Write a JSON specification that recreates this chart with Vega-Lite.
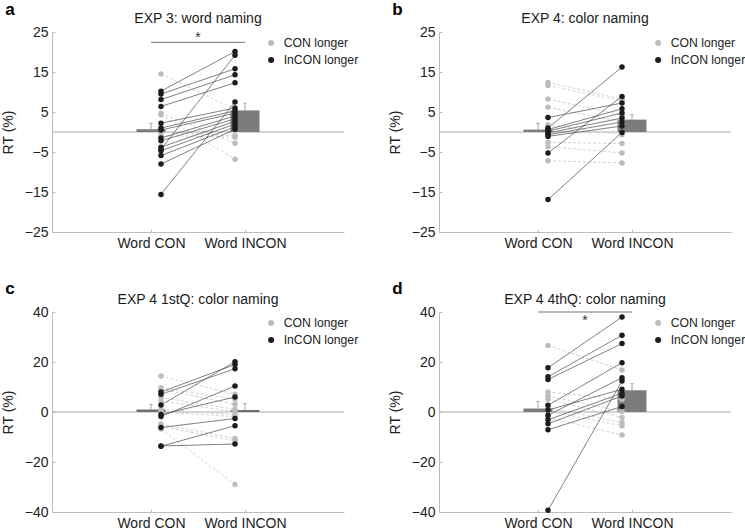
{
  "$schema": "https://vega.github.io/schema/vega-lite/v6.json",
  "padding": {"left": 1, "top": 1, "right": 0, "bottom": 2},
  "background": "white",
  "config": {
    "font": "Liberation Sans",
    "view": {"stroke": null},
    "axis": {"domainColor": "#bcbcbc", "tickColor": "#bcbcbc", "labelColor": "#222222", "labelFontSize": 14, "titleFontSize": 14, "titleFontWeight": "normal", "titleColor": "#222222", "grid": false, "tickSize": -3, "labelPadding": 7, "titlePadding": 9},
    "text": {"font": "Liberation Sans"}
  },
  "datasets": {
    "a_subj": [
      {"s": 1, "con": 14.5, "incon": 5.7, "group": "CON longer"},
      {"s": 2, "con": 4.7, "incon": -2.8, "group": "CON longer"},
      {"s": 3, "con": 4.3, "incon": -6.8, "group": "CON longer"},
      {"s": 4, "con": -0.1, "incon": -0.9, "group": "CON longer"},
      {"s": 5, "con": -0.9, "incon": -1.3, "group": "CON longer"},
      {"s": 6, "con": 10.2, "incon": 20.1, "group": "InCON longer"},
      {"s": 7, "con": 9.5, "incon": 15.8, "group": "InCON longer"},
      {"s": 8, "con": 8.1, "incon": 14.3, "group": "InCON longer"},
      {"s": 9, "con": 6.4, "incon": 12.3, "group": "InCON longer"},
      {"s": 10, "con": 2.2, "incon": 6.0, "group": "InCON longer"},
      {"s": 11, "con": 1.0, "incon": 5.3, "group": "InCON longer"},
      {"s": 12, "con": 0.5, "incon": 4.7, "group": "InCON longer"},
      {"s": 13, "con": -1.5, "incon": 4.0, "group": "InCON longer"},
      {"s": 14, "con": -2.2, "incon": 3.3, "group": "InCON longer"},
      {"s": 15, "con": -3.8, "incon": 2.7, "group": "InCON longer"},
      {"s": 16, "con": -4.3, "incon": 19.2, "group": "InCON longer"},
      {"s": 17, "con": -4.7, "incon": 2.0, "group": "InCON longer"},
      {"s": 18, "con": -5.9, "incon": 1.3, "group": "InCON longer"},
      {"s": 19, "con": -8.0, "incon": 0.7, "group": "InCON longer"},
      {"s": 20, "con": -15.6, "incon": 7.5, "group": "InCON longer"}
    ],
    "b_subj": [
      {"s": 1, "con": 12.4, "incon": 8.25, "group": "CON longer"},
      {"s": 2, "con": 11.6, "incon": 7.8, "group": "CON longer"},
      {"s": 3, "con": 8.25, "incon": 4.2, "group": "CON longer"},
      {"s": 4, "con": 6.2, "incon": 2.5, "group": "CON longer"},
      {"s": 5, "con": 1.8, "incon": -0.7, "group": "CON longer"},
      {"s": 6, "con": -2.6, "incon": -2.9, "group": "CON longer"},
      {"s": 7, "con": -3.6, "incon": -5.25, "group": "CON longer"},
      {"s": 8, "con": -7.2, "incon": -7.75, "group": "CON longer"},
      {"s": 9, "con": 1.0, "incon": 16.25, "group": "InCON longer"},
      {"s": 10, "con": -5.25, "incon": 8.9, "group": "InCON longer"},
      {"s": 11, "con": 3.6, "incon": 7.25, "group": "InCON longer"},
      {"s": 12, "con": 0.6, "incon": 5.8, "group": "InCON longer"},
      {"s": 13, "con": 0.2, "incon": 4.75, "group": "InCON longer"},
      {"s": 14, "con": -0.25, "incon": 3.5, "group": "InCON longer"},
      {"s": 15, "con": -0.7, "incon": 2.5, "group": "InCON longer"},
      {"s": 16, "con": -1.1, "incon": 1.5, "group": "InCON longer"},
      {"s": 17, "con": -16.9, "incon": -0.1, "group": "InCON longer"}
    ],
    "c_subj": [
      {"s": 1, "con": 14.4, "incon": 7.1, "group": "CON longer"},
      {"s": 2, "con": 9.7, "incon": 5.1, "group": "CON longer"},
      {"s": 3, "con": 9.1, "incon": 3.1, "group": "CON longer"},
      {"s": 4, "con": 5.8, "incon": 1.1, "group": "CON longer"},
      {"s": 5, "con": 4.4, "incon": 0.1, "group": "CON longer"},
      {"s": 6, "con": 1.1, "incon": -1.1, "group": "CON longer"},
      {"s": 7, "con": 0.1, "incon": -1.9, "group": "CON longer"},
      {"s": 8, "con": -4.8, "incon": -10.6, "group": "CON longer"},
      {"s": 9, "con": -5.8, "incon": -11.5, "group": "CON longer"},
      {"s": 10, "con": -6.8, "incon": -29.0, "group": "CON longer"},
      {"s": 11, "con": 8.0, "incon": 19.0, "group": "InCON longer"},
      {"s": 12, "con": 7.1, "incon": 17.3, "group": "InCON longer"},
      {"s": 13, "con": 2.8, "incon": 20.1, "group": "InCON longer"},
      {"s": 14, "con": -1.8, "incon": 10.4, "group": "InCON longer"},
      {"s": 15, "con": -1.0, "incon": 6.0, "group": "InCON longer"},
      {"s": 16, "con": -6.2, "incon": -2.6, "group": "InCON longer"},
      {"s": 17, "con": -13.7, "incon": -5.5, "group": "InCON longer"},
      {"s": 18, "con": -13.6, "incon": -12.8, "group": "InCON longer"}
    ],
    "d_subj": [
      {"s": 1, "con": 26.6, "incon": 16.8, "group": "CON longer"},
      {"s": 2, "con": 8.0, "incon": 5.1, "group": "CON longer"},
      {"s": 3, "con": 6.4, "incon": 0.2, "group": "CON longer"},
      {"s": 4, "con": 5.1, "incon": -2.2, "group": "CON longer"},
      {"s": 5, "con": 1.8, "incon": -4.2, "group": "CON longer"},
      {"s": 6, "con": 0.5, "incon": -5.5, "group": "CON longer"},
      {"s": 7, "con": -2.2, "incon": -9.2, "group": "CON longer"},
      {"s": 8, "con": 17.7, "incon": 38.0, "group": "InCON longer"},
      {"s": 9, "con": 14.1, "incon": 30.7, "group": "InCON longer"},
      {"s": 10, "con": 13.0, "incon": 27.4, "group": "InCON longer"},
      {"s": 11, "con": 2.7, "incon": 19.7, "group": "InCON longer"},
      {"s": 12, "con": 0.8, "incon": 9.1, "group": "InCON longer"},
      {"s": 13, "con": -1.3, "incon": 13.7, "group": "InCON longer"},
      {"s": 14, "con": -3.1, "incon": 7.5, "group": "InCON longer"},
      {"s": 15, "con": -4.7, "incon": 6.4, "group": "InCON longer"},
      {"s": 16, "con": -7.1, "incon": 2.2, "group": "InCON longer"},
      {"s": 17, "con": -39.3, "incon": 12.4, "group": "InCON longer"}
    ],
    "a_bar": [{"cond": 1, "mean": 0.7, "hi": 2.2}, {"cond": 2, "mean": 5.4, "hi": 7.2}],
    "b_bar": [{"cond": 1, "mean": 0.6, "hi": 2.1}, {"cond": 2, "mean": 3.1, "hi": 4.3}],
    "c_bar": [{"cond": 1, "mean": 1.0, "hi": 3.1}, {"cond": 2, "mean": 0.8, "hi": 3.4}],
    "d_bar": [{"cond": 1, "mean": 1.4, "hi": 4.2}, {"cond": 2, "mean": 8.7, "hi": 11.3}]
  },
  "resolve": {"scale": {"color": "independent"}, "legend": {"color": "independent"}},
  "spacing": 29,
  "vconcat": [
    {
      "resolve": {"scale": {"color": "independent"}, "legend": {"color": "independent"}},
      "spacing": 29,
      "hconcat": [
        {
          "width": 292, "height": 200,
          "layer": [
            {"data": {"values": [{"z": 0}]}, "mark": {"type": "rule", "color": "#ababab", "strokeWidth": 1}, "encoding": {"y": {"field": "z", "type": "quantitative", "scale": {"domain": [-25, 25], "nice": false, "zero": false}, "axis": {"values": [25, 15, 5, -5, -15, -25], "title": "RT (%)"}}}},
            {"data": {"name": "a_bar"}, "mark": {"type": "bar", "orient": "vertical", "size": 29, "color": "#7c7c7c"}, "encoding": {"x": {"field": "cond", "type": "quantitative", "scale": {"domain": [0, 3], "nice": false}, "axis": {"values": [1, 2], "labelExpr": "datum.value == 1 ? 'Word CON' : 'Word INCON'", "title": null}}, "y": {"field": "mean", "type": "quantitative", "scale": {"domain": [-25, 25], "nice": false, "zero": false}, "axis": {"values": [25, 15, 5, -5, -15, -25], "title": "RT (%)"}}}},
            {"data": {"name": "a_bar"}, "mark": {"type": "rule", "color": "#8a8a8a", "strokeWidth": 0.8}, "encoding": {"x": {"field": "cond", "type": "quantitative", "scale": {"domain": [0, 3], "nice": false}, "axis": {"values": [1, 2], "labelExpr": "datum.value == 1 ? 'Word CON' : 'Word INCON'", "title": null}}, "y": {"field": "mean", "type": "quantitative", "scale": {"domain": [-25, 25], "nice": false, "zero": false}, "axis": {"values": [25, 15, 5, -5, -15, -25], "title": "RT (%)"}}, "y2": {"field": "hi"}}},
            {"data": {"name": "a_bar"}, "mark": {"type": "tick", "orient": "horizontal", "size": 4, "thickness": 0.8, "color": "#8a8a8a"}, "encoding": {"x": {"field": "cond", "type": "quantitative", "scale": {"domain": [0, 3], "nice": false}, "axis": {"values": [1, 2], "labelExpr": "datum.value == 1 ? 'Word CON' : 'Word INCON'", "title": null}}, "y": {"field": "hi", "type": "quantitative", "scale": {"domain": [-25, 25], "nice": false, "zero": false}, "axis": {"values": [25, 15, 5, -5, -15, -25], "title": "RT (%)"}}}},
            {"data": {"name": "a_subj"}, "transform": [{"filter": "datum.group == 'CON longer'"}], "mark": {"type": "rule", "color": "#c8c8c8", "strokeWidth": 0.8, "strokeDash": [3, 2], "xOffset": 10, "x2Offset": -10}, "encoding": {"x": {"datum": 1, "type": "quantitative", "scale": {"domain": [0, 3], "nice": false}, "axis": {"values": [1, 2], "labelExpr": "datum.value == 1 ? 'Word CON' : 'Word INCON'", "title": null}}, "x2": {"datum": 2}, "y": {"field": "con", "type": "quantitative", "scale": {"domain": [-25, 25], "nice": false, "zero": false}, "axis": {"values": [25, 15, 5, -5, -15, -25], "title": "RT (%)"}}, "y2": {"field": "incon"}}},
            {"data": {"name": "a_subj"}, "transform": [{"filter": "datum.group == 'InCON longer'"}], "mark": {"type": "rule", "color": "#4a4a4a", "strokeWidth": 0.7, "xOffset": 10, "x2Offset": -10}, "encoding": {"x": {"datum": 1, "type": "quantitative", "scale": {"domain": [0, 3], "nice": false}, "axis": {"values": [1, 2], "labelExpr": "datum.value == 1 ? 'Word CON' : 'Word INCON'", "title": null}}, "x2": {"datum": 2}, "y": {"field": "con", "type": "quantitative", "scale": {"domain": [-25, 25], "nice": false, "zero": false}, "axis": {"values": [25, 15, 5, -5, -15, -25], "title": "RT (%)"}}, "y2": {"field": "incon"}}},
            {"data": {"name": "a_subj"}, "mark": {"type": "circle", "size": 30, "opacity": 1, "xOffset": 10}, "encoding": {"x": {"datum": 1, "type": "quantitative", "scale": {"domain": [0, 3], "nice": false}, "axis": {"values": [1, 2], "labelExpr": "datum.value == 1 ? 'Word CON' : 'Word INCON'", "title": null}}, "y": {"field": "con", "type": "quantitative", "scale": {"domain": [-25, 25], "nice": false, "zero": false}, "axis": {"values": [25, 15, 5, -5, -15, -25], "title": "RT (%)"}}, "order": {"field": "group"}, "color": {"field": "group", "type": "nominal", "scale": {"domain": ["CON longer", "InCON longer"], "range": ["#bdbdbd", "#1c1c1c"]}, "legend": {"title": null, "orient": "none", "legendX": 213, "legendY": 5, "labelFontSize": 12.2, "labelColor": "#222222", "symbolSize": 36, "symbolType": "circle", "rowPadding": 4, "labelOffset": 6.5, "padding": 0, "symbolStrokeWidth": 0}}}},
            {"data": {"name": "a_subj"}, "mark": {"type": "circle", "size": 30, "opacity": 1, "xOffset": -10}, "encoding": {"x": {"datum": 2, "type": "quantitative", "scale": {"domain": [0, 3], "nice": false}, "axis": {"values": [1, 2], "labelExpr": "datum.value == 1 ? 'Word CON' : 'Word INCON'", "title": null}}, "y": {"field": "incon", "type": "quantitative", "scale": {"domain": [-25, 25], "nice": false, "zero": false}, "axis": {"values": [25, 15, 5, -5, -15, -25], "title": "RT (%)"}}, "order": {"field": "group"}, "color": {"field": "group", "type": "nominal", "scale": {"domain": ["CON longer", "InCON longer"], "range": ["#bdbdbd", "#1c1c1c"]}, "legend": {"title": null, "orient": "none", "legendX": 213, "legendY": 5, "labelFontSize": 12.2, "labelColor": "#222222", "symbolSize": 36, "symbolType": "circle", "rowPadding": 4, "labelOffset": 6.5, "padding": 0, "symbolStrokeWidth": 0}}}},
            {"data": {"values": [{"x1": 1, "x2": 2, "y": 22.4}]}, "mark": {"type": "rule", "color": "#555555", "strokeWidth": 0.8}, "encoding": {"x": {"field": "x1", "type": "quantitative", "scale": {"domain": [0, 3], "nice": false}, "axis": {"values": [1, 2], "labelExpr": "datum.value == 1 ? 'Word CON' : 'Word INCON'", "title": null}}, "x2": {"field": "x2"}, "y": {"field": "y", "type": "quantitative", "scale": {"domain": [-25, 25], "nice": false, "zero": false}, "axis": {"values": [25, 15, 5, -5, -15, -25], "title": "RT (%)"}}}},
            {"data": {"values": [{"xm": 1.5, "ys": 23.6, "star": "*"}]}, "mark": {"type": "text", "fontSize": 14, "color": "#333333", "baseline": "middle"}, "encoding": {"x": {"field": "xm", "type": "quantitative", "scale": {"domain": [0, 3], "nice": false}, "axis": {"values": [1, 2], "labelExpr": "datum.value == 1 ? 'Word CON' : 'Word INCON'", "title": null}}, "y": {"field": "ys", "type": "quantitative", "scale": {"domain": [-25, 25], "nice": false, "zero": false}, "axis": {"values": [25, 15, 5, -5, -15, -25], "title": "RT (%)"}}, "text": {"field": "star"}}},
            {"data": {"values": [{"tx": 1.5, "ty": 27.25, "t": "EXP 3: word naming"}]}, "mark": {"type": "text", "fontSize": 14, "color": "#1a1a1a", "align": "center", "baseline": "alphabetic"}, "encoding": {"x": {"field": "tx", "type": "quantitative", "scale": {"domain": [0, 3], "nice": false}, "axis": {"values": [1, 2], "labelExpr": "datum.value == 1 ? 'Word CON' : 'Word INCON'", "title": null}}, "y": {"field": "ty", "type": "quantitative", "scale": {"domain": [-25, 25], "nice": false, "zero": false}, "axis": {"values": [25, 15, 5, -5, -15, -25], "title": "RT (%)"}}, "text": {"field": "t"}}},
            {"data": {"values": [{"lx": -0.55, "ly": 29.2, "t": "a"}]}, "mark": {"type": "text", "fontSize": 17, "fontWeight": "bold", "color": "#000000", "align": "left", "baseline": "alphabetic"}, "encoding": {"x": {"field": "lx", "type": "quantitative", "scale": {"domain": [0, 3], "nice": false}, "axis": {"values": [1, 2], "labelExpr": "datum.value == 1 ? 'Word CON' : 'Word INCON'", "title": null}}, "y": {"field": "ly", "type": "quantitative", "scale": {"domain": [-25, 25], "nice": false, "zero": false}, "axis": {"values": [25, 15, 5, -5, -15, -25], "title": "RT (%)"}}, "text": {"field": "t"}}}
          ]
        },
        {
          "width": 292, "height": 200,
          "layer": [
            {"data": {"values": [{"z": 0}]}, "mark": {"type": "rule", "color": "#ababab", "strokeWidth": 1}, "encoding": {"y": {"field": "z", "type": "quantitative", "scale": {"domain": [-25, 25], "nice": false, "zero": false}, "axis": {"values": [25, 15, 5, -5, -15, -25], "title": "RT (%)"}}}},
            {"data": {"name": "b_bar"}, "mark": {"type": "bar", "orient": "vertical", "size": 29, "color": "#7c7c7c"}, "encoding": {"x": {"field": "cond", "type": "quantitative", "scale": {"domain": [0, 3], "nice": false}, "axis": {"values": [1, 2], "labelExpr": "datum.value == 1 ? 'Word CON' : 'Word INCON'", "title": null}}, "y": {"field": "mean", "type": "quantitative", "scale": {"domain": [-25, 25], "nice": false, "zero": false}, "axis": {"values": [25, 15, 5, -5, -15, -25], "title": "RT (%)"}}}},
            {"data": {"name": "b_bar"}, "mark": {"type": "rule", "color": "#8a8a8a", "strokeWidth": 0.8}, "encoding": {"x": {"field": "cond", "type": "quantitative", "scale": {"domain": [0, 3], "nice": false}, "axis": {"values": [1, 2], "labelExpr": "datum.value == 1 ? 'Word CON' : 'Word INCON'", "title": null}}, "y": {"field": "mean", "type": "quantitative", "scale": {"domain": [-25, 25], "nice": false, "zero": false}, "axis": {"values": [25, 15, 5, -5, -15, -25], "title": "RT (%)"}}, "y2": {"field": "hi"}}},
            {"data": {"name": "b_bar"}, "mark": {"type": "tick", "orient": "horizontal", "size": 4, "thickness": 0.8, "color": "#8a8a8a"}, "encoding": {"x": {"field": "cond", "type": "quantitative", "scale": {"domain": [0, 3], "nice": false}, "axis": {"values": [1, 2], "labelExpr": "datum.value == 1 ? 'Word CON' : 'Word INCON'", "title": null}}, "y": {"field": "hi", "type": "quantitative", "scale": {"domain": [-25, 25], "nice": false, "zero": false}, "axis": {"values": [25, 15, 5, -5, -15, -25], "title": "RT (%)"}}}},
            {"data": {"name": "b_subj"}, "transform": [{"filter": "datum.group == 'CON longer'"}], "mark": {"type": "rule", "color": "#c8c8c8", "strokeWidth": 0.8, "strokeDash": [3, 2], "xOffset": 10, "x2Offset": -10}, "encoding": {"x": {"datum": 1, "type": "quantitative", "scale": {"domain": [0, 3], "nice": false}, "axis": {"values": [1, 2], "labelExpr": "datum.value == 1 ? 'Word CON' : 'Word INCON'", "title": null}}, "x2": {"datum": 2}, "y": {"field": "con", "type": "quantitative", "scale": {"domain": [-25, 25], "nice": false, "zero": false}, "axis": {"values": [25, 15, 5, -5, -15, -25], "title": "RT (%)"}}, "y2": {"field": "incon"}}},
            {"data": {"name": "b_subj"}, "transform": [{"filter": "datum.group == 'InCON longer'"}], "mark": {"type": "rule", "color": "#4a4a4a", "strokeWidth": 0.7, "xOffset": 10, "x2Offset": -10}, "encoding": {"x": {"datum": 1, "type": "quantitative", "scale": {"domain": [0, 3], "nice": false}, "axis": {"values": [1, 2], "labelExpr": "datum.value == 1 ? 'Word CON' : 'Word INCON'", "title": null}}, "x2": {"datum": 2}, "y": {"field": "con", "type": "quantitative", "scale": {"domain": [-25, 25], "nice": false, "zero": false}, "axis": {"values": [25, 15, 5, -5, -15, -25], "title": "RT (%)"}}, "y2": {"field": "incon"}}},
            {"data": {"name": "b_subj"}, "mark": {"type": "circle", "size": 30, "opacity": 1, "xOffset": 10}, "encoding": {"x": {"datum": 1, "type": "quantitative", "scale": {"domain": [0, 3], "nice": false}, "axis": {"values": [1, 2], "labelExpr": "datum.value == 1 ? 'Word CON' : 'Word INCON'", "title": null}}, "y": {"field": "con", "type": "quantitative", "scale": {"domain": [-25, 25], "nice": false, "zero": false}, "axis": {"values": [25, 15, 5, -5, -15, -25], "title": "RT (%)"}}, "order": {"field": "group"}, "color": {"field": "group", "type": "nominal", "scale": {"domain": ["CON longer", "InCON longer"], "range": ["#bdbdbd", "#1c1c1c"]}, "legend": {"title": null, "orient": "none", "legendX": 213, "legendY": 5, "labelFontSize": 12.2, "labelColor": "#222222", "symbolSize": 36, "symbolType": "circle", "rowPadding": 4, "labelOffset": 6.5, "padding": 0, "symbolStrokeWidth": 0}}}},
            {"data": {"name": "b_subj"}, "mark": {"type": "circle", "size": 30, "opacity": 1, "xOffset": -10}, "encoding": {"x": {"datum": 2, "type": "quantitative", "scale": {"domain": [0, 3], "nice": false}, "axis": {"values": [1, 2], "labelExpr": "datum.value == 1 ? 'Word CON' : 'Word INCON'", "title": null}}, "y": {"field": "incon", "type": "quantitative", "scale": {"domain": [-25, 25], "nice": false, "zero": false}, "axis": {"values": [25, 15, 5, -5, -15, -25], "title": "RT (%)"}}, "order": {"field": "group"}, "color": {"field": "group", "type": "nominal", "scale": {"domain": ["CON longer", "InCON longer"], "range": ["#bdbdbd", "#1c1c1c"]}, "legend": {"title": null, "orient": "none", "legendX": 213, "legendY": 5, "labelFontSize": 12.2, "labelColor": "#222222", "symbolSize": 36, "symbolType": "circle", "rowPadding": 4, "labelOffset": 6.5, "padding": 0, "symbolStrokeWidth": 0}}}},
            {"data": {"values": [{"tx": 1.5, "ty": 27.25, "t": "EXP 4: color naming"}]}, "mark": {"type": "text", "fontSize": 14, "color": "#1a1a1a", "align": "center", "baseline": "alphabetic"}, "encoding": {"x": {"field": "tx", "type": "quantitative", "scale": {"domain": [0, 3], "nice": false}, "axis": {"values": [1, 2], "labelExpr": "datum.value == 1 ? 'Word CON' : 'Word INCON'", "title": null}}, "y": {"field": "ty", "type": "quantitative", "scale": {"domain": [-25, 25], "nice": false, "zero": false}, "axis": {"values": [25, 15, 5, -5, -15, -25], "title": "RT (%)"}}, "text": {"field": "t"}}},
            {"data": {"values": [{"lx": -0.55, "ly": 29.2, "t": "b"}]}, "mark": {"type": "text", "fontSize": 17, "fontWeight": "bold", "color": "#000000", "align": "left", "baseline": "alphabetic"}, "encoding": {"x": {"field": "lx", "type": "quantitative", "scale": {"domain": [0, 3], "nice": false}, "axis": {"values": [1, 2], "labelExpr": "datum.value == 1 ? 'Word CON' : 'Word INCON'", "title": null}}, "y": {"field": "ly", "type": "quantitative", "scale": {"domain": [-25, 25], "nice": false, "zero": false}, "axis": {"values": [25, 15, 5, -5, -15, -25], "title": "RT (%)"}}, "text": {"field": "t"}}}
          ]
        }
      ]
    },
    {
      "resolve": {"scale": {"color": "independent"}, "legend": {"color": "independent"}},
      "spacing": 29,
      "hconcat": [
        {
          "width": 292, "height": 200,
          "layer": [
            {"data": {"values": [{"z": 0}]}, "mark": {"type": "rule", "color": "#ababab", "strokeWidth": 1}, "encoding": {"y": {"field": "z", "type": "quantitative", "scale": {"domain": [-40, 40], "nice": false, "zero": false}, "axis": {"values": [40, 20, 0, -20, -40], "title": "RT (%)"}}}},
            {"data": {"name": "c_bar"}, "mark": {"type": "bar", "orient": "vertical", "size": 29, "color": "#6e6e6e"}, "encoding": {"x": {"field": "cond", "type": "quantitative", "scale": {"domain": [0, 3], "nice": false}, "axis": {"values": [1, 2], "labelExpr": "datum.value == 1 ? 'Word CON' : 'Word INCON'", "title": null}}, "y": {"field": "mean", "type": "quantitative", "scale": {"domain": [-40, 40], "nice": false, "zero": false}, "axis": {"values": [40, 20, 0, -20, -40], "title": "RT (%)"}}}},
            {"data": {"name": "c_bar"}, "mark": {"type": "rule", "color": "#8a8a8a", "strokeWidth": 0.8}, "encoding": {"x": {"field": "cond", "type": "quantitative", "scale": {"domain": [0, 3], "nice": false}, "axis": {"values": [1, 2], "labelExpr": "datum.value == 1 ? 'Word CON' : 'Word INCON'", "title": null}}, "y": {"field": "mean", "type": "quantitative", "scale": {"domain": [-40, 40], "nice": false, "zero": false}, "axis": {"values": [40, 20, 0, -20, -40], "title": "RT (%)"}}, "y2": {"field": "hi"}}},
            {"data": {"name": "c_bar"}, "mark": {"type": "tick", "orient": "horizontal", "size": 4, "thickness": 0.8, "color": "#8a8a8a"}, "encoding": {"x": {"field": "cond", "type": "quantitative", "scale": {"domain": [0, 3], "nice": false}, "axis": {"values": [1, 2], "labelExpr": "datum.value == 1 ? 'Word CON' : 'Word INCON'", "title": null}}, "y": {"field": "hi", "type": "quantitative", "scale": {"domain": [-40, 40], "nice": false, "zero": false}, "axis": {"values": [40, 20, 0, -20, -40], "title": "RT (%)"}}}},
            {"data": {"name": "c_subj"}, "transform": [{"filter": "datum.group == 'CON longer'"}], "mark": {"type": "rule", "color": "#c8c8c8", "strokeWidth": 0.8, "strokeDash": [3, 2], "xOffset": 10, "x2Offset": -10}, "encoding": {"x": {"datum": 1, "type": "quantitative", "scale": {"domain": [0, 3], "nice": false}, "axis": {"values": [1, 2], "labelExpr": "datum.value == 1 ? 'Word CON' : 'Word INCON'", "title": null}}, "x2": {"datum": 2}, "y": {"field": "con", "type": "quantitative", "scale": {"domain": [-40, 40], "nice": false, "zero": false}, "axis": {"values": [40, 20, 0, -20, -40], "title": "RT (%)"}}, "y2": {"field": "incon"}}},
            {"data": {"name": "c_subj"}, "transform": [{"filter": "datum.group == 'InCON longer'"}], "mark": {"type": "rule", "color": "#4a4a4a", "strokeWidth": 0.7, "xOffset": 10, "x2Offset": -10}, "encoding": {"x": {"datum": 1, "type": "quantitative", "scale": {"domain": [0, 3], "nice": false}, "axis": {"values": [1, 2], "labelExpr": "datum.value == 1 ? 'Word CON' : 'Word INCON'", "title": null}}, "x2": {"datum": 2}, "y": {"field": "con", "type": "quantitative", "scale": {"domain": [-40, 40], "nice": false, "zero": false}, "axis": {"values": [40, 20, 0, -20, -40], "title": "RT (%)"}}, "y2": {"field": "incon"}}},
            {"data": {"name": "c_subj"}, "mark": {"type": "circle", "size": 30, "opacity": 1, "xOffset": 10}, "encoding": {"x": {"datum": 1, "type": "quantitative", "scale": {"domain": [0, 3], "nice": false}, "axis": {"values": [1, 2], "labelExpr": "datum.value == 1 ? 'Word CON' : 'Word INCON'", "title": null}}, "y": {"field": "con", "type": "quantitative", "scale": {"domain": [-40, 40], "nice": false, "zero": false}, "axis": {"values": [40, 20, 0, -20, -40], "title": "RT (%)"}}, "order": {"field": "group"}, "color": {"field": "group", "type": "nominal", "scale": {"domain": ["CON longer", "InCON longer"], "range": ["#bdbdbd", "#1c1c1c"]}, "legend": {"title": null, "orient": "none", "legendX": 213, "legendY": 5, "labelFontSize": 12.2, "labelColor": "#222222", "symbolSize": 36, "symbolType": "circle", "rowPadding": 4, "labelOffset": 6.5, "padding": 0, "symbolStrokeWidth": 0}}}},
            {"data": {"name": "c_subj"}, "mark": {"type": "circle", "size": 30, "opacity": 1, "xOffset": -10}, "encoding": {"x": {"datum": 2, "type": "quantitative", "scale": {"domain": [0, 3], "nice": false}, "axis": {"values": [1, 2], "labelExpr": "datum.value == 1 ? 'Word CON' : 'Word INCON'", "title": null}}, "y": {"field": "incon", "type": "quantitative", "scale": {"domain": [-40, 40], "nice": false, "zero": false}, "axis": {"values": [40, 20, 0, -20, -40], "title": "RT (%)"}}, "order": {"field": "group"}, "color": {"field": "group", "type": "nominal", "scale": {"domain": ["CON longer", "InCON longer"], "range": ["#bdbdbd", "#1c1c1c"]}, "legend": {"title": null, "orient": "none", "legendX": 213, "legendY": 5, "labelFontSize": 12.2, "labelColor": "#222222", "symbolSize": 36, "symbolType": "circle", "rowPadding": 4, "labelOffset": 6.5, "padding": 0, "symbolStrokeWidth": 0}}}},
            {"data": {"values": [{"tx": 1.5, "ty": 43.2, "t": "EXP 4 1stQ: color naming"}]}, "mark": {"type": "text", "fontSize": 14, "color": "#1a1a1a", "align": "center", "baseline": "alphabetic"}, "encoding": {"x": {"field": "tx", "type": "quantitative", "scale": {"domain": [0, 3], "nice": false}, "axis": {"values": [1, 2], "labelExpr": "datum.value == 1 ? 'Word CON' : 'Word INCON'", "title": null}}, "y": {"field": "ty", "type": "quantitative", "scale": {"domain": [-40, 40], "nice": false, "zero": false}, "axis": {"values": [40, 20, 0, -20, -40], "title": "RT (%)"}}, "text": {"field": "t"}}},
            {"data": {"values": [{"lx": -0.55, "ly": 47.2, "t": "c"}]}, "mark": {"type": "text", "fontSize": 17, "fontWeight": "bold", "color": "#000000", "align": "left", "baseline": "alphabetic"}, "encoding": {"x": {"field": "lx", "type": "quantitative", "scale": {"domain": [0, 3], "nice": false}, "axis": {"values": [1, 2], "labelExpr": "datum.value == 1 ? 'Word CON' : 'Word INCON'", "title": null}}, "y": {"field": "ly", "type": "quantitative", "scale": {"domain": [-40, 40], "nice": false, "zero": false}, "axis": {"values": [40, 20, 0, -20, -40], "title": "RT (%)"}}, "text": {"field": "t"}}}
          ]
        },
        {
          "width": 292, "height": 200,
          "layer": [
            {"data": {"values": [{"z": 0}]}, "mark": {"type": "rule", "color": "#ababab", "strokeWidth": 1}, "encoding": {"y": {"field": "z", "type": "quantitative", "scale": {"domain": [-40, 40], "nice": false, "zero": false}, "axis": {"values": [40, 20, 0, -20, -40], "title": "RT (%)"}}}},
            {"data": {"name": "d_bar"}, "mark": {"type": "bar", "orient": "vertical", "size": 29, "color": "#7c7c7c"}, "encoding": {"x": {"field": "cond", "type": "quantitative", "scale": {"domain": [0, 3], "nice": false}, "axis": {"values": [1, 2], "labelExpr": "datum.value == 1 ? 'Word CON' : 'Word INCON'", "title": null}}, "y": {"field": "mean", "type": "quantitative", "scale": {"domain": [-40, 40], "nice": false, "zero": false}, "axis": {"values": [40, 20, 0, -20, -40], "title": "RT (%)"}}}},
            {"data": {"name": "d_bar"}, "mark": {"type": "rule", "color": "#8a8a8a", "strokeWidth": 0.8}, "encoding": {"x": {"field": "cond", "type": "quantitative", "scale": {"domain": [0, 3], "nice": false}, "axis": {"values": [1, 2], "labelExpr": "datum.value == 1 ? 'Word CON' : 'Word INCON'", "title": null}}, "y": {"field": "mean", "type": "quantitative", "scale": {"domain": [-40, 40], "nice": false, "zero": false}, "axis": {"values": [40, 20, 0, -20, -40], "title": "RT (%)"}}, "y2": {"field": "hi"}}},
            {"data": {"name": "d_bar"}, "mark": {"type": "tick", "orient": "horizontal", "size": 4, "thickness": 0.8, "color": "#8a8a8a"}, "encoding": {"x": {"field": "cond", "type": "quantitative", "scale": {"domain": [0, 3], "nice": false}, "axis": {"values": [1, 2], "labelExpr": "datum.value == 1 ? 'Word CON' : 'Word INCON'", "title": null}}, "y": {"field": "hi", "type": "quantitative", "scale": {"domain": [-40, 40], "nice": false, "zero": false}, "axis": {"values": [40, 20, 0, -20, -40], "title": "RT (%)"}}}},
            {"data": {"name": "d_subj"}, "transform": [{"filter": "datum.group == 'CON longer'"}], "mark": {"type": "rule", "color": "#c8c8c8", "strokeWidth": 0.8, "strokeDash": [3, 2], "xOffset": 10, "x2Offset": -10}, "encoding": {"x": {"datum": 1, "type": "quantitative", "scale": {"domain": [0, 3], "nice": false}, "axis": {"values": [1, 2], "labelExpr": "datum.value == 1 ? 'Word CON' : 'Word INCON'", "title": null}}, "x2": {"datum": 2}, "y": {"field": "con", "type": "quantitative", "scale": {"domain": [-40, 40], "nice": false, "zero": false}, "axis": {"values": [40, 20, 0, -20, -40], "title": "RT (%)"}}, "y2": {"field": "incon"}}},
            {"data": {"name": "d_subj"}, "transform": [{"filter": "datum.group == 'InCON longer'"}], "mark": {"type": "rule", "color": "#4a4a4a", "strokeWidth": 0.7, "xOffset": 10, "x2Offset": -10}, "encoding": {"x": {"datum": 1, "type": "quantitative", "scale": {"domain": [0, 3], "nice": false}, "axis": {"values": [1, 2], "labelExpr": "datum.value == 1 ? 'Word CON' : 'Word INCON'", "title": null}}, "x2": {"datum": 2}, "y": {"field": "con", "type": "quantitative", "scale": {"domain": [-40, 40], "nice": false, "zero": false}, "axis": {"values": [40, 20, 0, -20, -40], "title": "RT (%)"}}, "y2": {"field": "incon"}}},
            {"data": {"name": "d_subj"}, "mark": {"type": "circle", "size": 30, "opacity": 1, "xOffset": 10}, "encoding": {"x": {"datum": 1, "type": "quantitative", "scale": {"domain": [0, 3], "nice": false}, "axis": {"values": [1, 2], "labelExpr": "datum.value == 1 ? 'Word CON' : 'Word INCON'", "title": null}}, "y": {"field": "con", "type": "quantitative", "scale": {"domain": [-40, 40], "nice": false, "zero": false}, "axis": {"values": [40, 20, 0, -20, -40], "title": "RT (%)"}}, "order": {"field": "group"}, "color": {"field": "group", "type": "nominal", "scale": {"domain": ["CON longer", "InCON longer"], "range": ["#bdbdbd", "#1c1c1c"]}, "legend": {"title": null, "orient": "none", "legendX": 213, "legendY": 5, "labelFontSize": 12.2, "labelColor": "#222222", "symbolSize": 36, "symbolType": "circle", "rowPadding": 4, "labelOffset": 6.5, "padding": 0, "symbolStrokeWidth": 0}}}},
            {"data": {"name": "d_subj"}, "mark": {"type": "circle", "size": 30, "opacity": 1, "xOffset": -10}, "encoding": {"x": {"datum": 2, "type": "quantitative", "scale": {"domain": [0, 3], "nice": false}, "axis": {"values": [1, 2], "labelExpr": "datum.value == 1 ? 'Word CON' : 'Word INCON'", "title": null}}, "y": {"field": "incon", "type": "quantitative", "scale": {"domain": [-40, 40], "nice": false, "zero": false}, "axis": {"values": [40, 20, 0, -20, -40], "title": "RT (%)"}}, "order": {"field": "group"}, "color": {"field": "group", "type": "nominal", "scale": {"domain": ["CON longer", "InCON longer"], "range": ["#bdbdbd", "#1c1c1c"]}, "legend": {"title": null, "orient": "none", "legendX": 213, "legendY": 5, "labelFontSize": 12.2, "labelColor": "#222222", "symbolSize": 36, "symbolType": "circle", "rowPadding": 4, "labelOffset": 6.5, "padding": 0, "symbolStrokeWidth": 0}}}},
            {"data": {"values": [{"x1": 1, "x2": 2, "y": 40}]}, "mark": {"type": "rule", "color": "#555555", "strokeWidth": 0.8}, "encoding": {"x": {"field": "x1", "type": "quantitative", "scale": {"domain": [0, 3], "nice": false}, "axis": {"values": [1, 2], "labelExpr": "datum.value == 1 ? 'Word CON' : 'Word INCON'", "title": null}}, "x2": {"field": "x2"}, "y": {"field": "y", "type": "quantitative", "scale": {"domain": [-40, 40], "nice": false, "zero": false}, "axis": {"values": [40, 20, 0, -20, -40], "title": "RT (%)"}}}},
            {"data": {"values": [{"xm": 1.5, "ys": 36.3, "star": "*"}]}, "mark": {"type": "text", "fontSize": 14, "color": "#333333", "baseline": "middle"}, "encoding": {"x": {"field": "xm", "type": "quantitative", "scale": {"domain": [0, 3], "nice": false}, "axis": {"values": [1, 2], "labelExpr": "datum.value == 1 ? 'Word CON' : 'Word INCON'", "title": null}}, "y": {"field": "ys", "type": "quantitative", "scale": {"domain": [-40, 40], "nice": false, "zero": false}, "axis": {"values": [40, 20, 0, -20, -40], "title": "RT (%)"}}, "text": {"field": "star"}}},
            {"data": {"values": [{"tx": 1.5, "ty": 43.2, "t": "EXP 4 4thQ: color naming"}]}, "mark": {"type": "text", "fontSize": 14, "color": "#1a1a1a", "align": "center", "baseline": "alphabetic"}, "encoding": {"x": {"field": "tx", "type": "quantitative", "scale": {"domain": [0, 3], "nice": false}, "axis": {"values": [1, 2], "labelExpr": "datum.value == 1 ? 'Word CON' : 'Word INCON'", "title": null}}, "y": {"field": "ty", "type": "quantitative", "scale": {"domain": [-40, 40], "nice": false, "zero": false}, "axis": {"values": [40, 20, 0, -20, -40], "title": "RT (%)"}}, "text": {"field": "t"}}},
            {"data": {"values": [{"lx": -0.55, "ly": 47.2, "t": "d"}]}, "mark": {"type": "text", "fontSize": 17, "fontWeight": "bold", "color": "#000000", "align": "left", "baseline": "alphabetic"}, "encoding": {"x": {"field": "lx", "type": "quantitative", "scale": {"domain": [0, 3], "nice": false}, "axis": {"values": [1, 2], "labelExpr": "datum.value == 1 ? 'Word CON' : 'Word INCON'", "title": null}}, "y": {"field": "ly", "type": "quantitative", "scale": {"domain": [-40, 40], "nice": false, "zero": false}, "axis": {"values": [40, 20, 0, -20, -40], "title": "RT (%)"}}, "text": {"field": "t"}}}
          ]
        }
      ]
    }
  ]
}
